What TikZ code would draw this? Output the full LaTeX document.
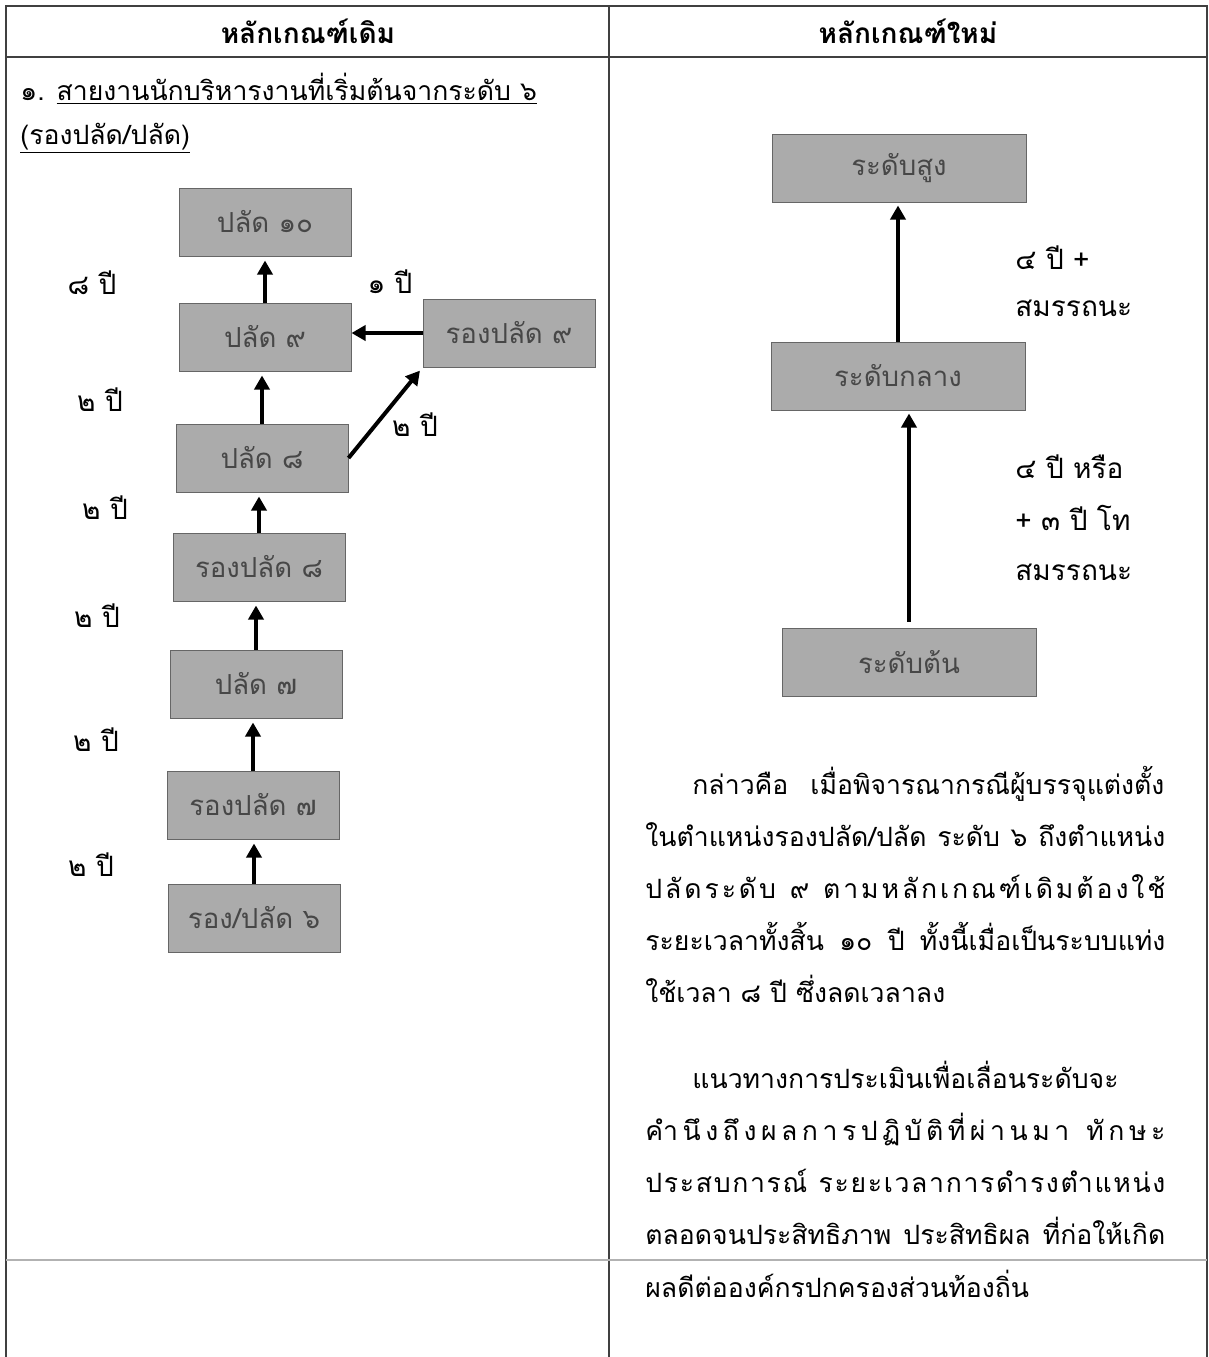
\documentclass[tikz,border=0pt]{standalone}
\usepackage{fontspec}
\setmainfont[Script=Thai]{Loma}
\usetikzlibrary{arrows.meta,positioning}
\newcommand\tg{\hskip 0pt plus 1fil\relax}
\newcommand\tgw{\hskip 0.3em plus 2fil\relax}
\tikzset{
  box/.style={draw=black!60, fill=black!33, line width=0.5pt, minimum width=86pt, minimum height=34pt,
              inner sep=1pt, font=\fontsize{13.8}{15}\selectfont, text=black!72},
  wbox/.style={box, minimum width=127pt},
  arr/.style={-{Triangle[length=7pt,width=7.5pt]}, line width=2pt},
  lbl/.style={font=\fontsize{14}{16}\selectfont, inner sep=0pt},
  txt/.style={lbl, font=\fontsize{13.3}{16}\selectfont, anchor=base west},
  head/.style={lbl, font=\fontsize{14}{16}\selectfont\bfseries},
  grid/.style={line width=1pt, draw=black!75},
  faint/.style={line width=0.8pt, draw=black!30}
}
\begin{document}
\begin{tikzpicture}[x=0.5pt, y=-0.5pt]
\useasboundingbox (0,0) rectangle (1209,1357);
% table frame
\draw[grid] (6,1357) -- (6,6) -- (1207,6) -- (1207,1357);
\draw[grid] (609,6) -- (609,1357);
\draw[grid] (6,57) -- (1207,57);
\draw[faint] (6,1260) -- (1207,1260);
\node[head] (hOld) at (308,31) {หลักเกณฑ์เดิม};
\node[head] (hNew) at (908,31) {หลักเกณฑ์ใหม่};

% left column
\node[txt] (title1) at (20,100) {๑. \underline{สายงานนักบริหารงานที่เริ่มต้นจากระดับ ๖}};
\node[txt] (title2) at (20,144) {\underline{(รองปลัด/ปลัด)}};

\node[box] (p10) at (265,222) {ปลัด ๑๐};
\node[box] (p9)  at (265,337) {ปลัด ๙};
\node[box] (rp9) at (509,333) {รองปลัด ๙};
\node[box] (p8)  at (262,458) {ปลัด ๘};
\node[box] (rp8) at (259,567) {รองปลัด ๘};
\node[box] (p7)  at (256,684) {ปลัด ๗};
\node[box] (rp7) at (253,805) {รองปลัด ๗};
\node[box] (p6)  at (254,918) {รอง/ปลัด ๖};

\foreach \a/\b in {p6/rp7, rp7/p7, p7/rp8, rp8/p8, p8/p9, p9/p10}
  \draw[arr, shorten >=2pt] (\a.north) -- (\a.north |- \b.south);
\draw[arr] (rp9.west) -- (rp9.west -| p9.east);
\draw[arr, shorten >=2pt] (p8.east) -- (rp9.south west);

\node[lbl] (y8)  at (92,283)  {๘ ปี};
\node[lbl] (y1)  at (390,282) {๑ ปี};
\node[lbl] (y2a) at (100,400) {๒ ปี};
\node[lbl] (y2d) at (415,425) {๒ ปี};
\node[lbl] (y2b) at (105,508) {๒ ปี};
\node[lbl] (y2c) at (97,616)  {๒ ปี};
\node[lbl] (y2e) at (96,740)  {๒ ปี};
\node[lbl] (y2f) at (91,865)  {๒ ปี};

% right column
\node[wbox] (hi)  at (899,168) {ระดับสูง};
\node[wbox] (mid) at (898,376) {ระดับกลาง};
\node[wbox] (lo)  at (909,662) {ระดับต้น};
\draw[arr, shorten >=1.5pt] (mid.north) -- (mid.north |- hi.south);
\draw[arr, shorten <=3pt, shorten >=1.5pt] (lo.north) -- (lo.north |- mid.south);

\node[lbl, anchor=west] (r1) at (1015,258) {๔ ปี +};
\node[lbl, anchor=west] (r2) at (1015,308) {สมรรถนะ};
\node[lbl, anchor=west] (r3) at (1015,467) {๔ ปี หรือ};
\node[lbl, anchor=west] (r4) at (1015,518) {+ ๓ ปี โท};
\node[lbl, anchor=west] (r5) at (1015,572) {สมรรถนะ};

\node[txt] (l1)  at (692,794)  {\makebox[236pt][s]{กล่าวคือ เมื่อพิจารณากรณีผู้บรรจุแต่งตั้ง}};
\node[txt] (l2)  at (645,846)  {\makebox[260pt][s]{ในตำแหน่งรองปลัด/ปลัด ระดับ ๖ ถึงตำแหน่ง}};
\node[txt] (l3)  at (645,898)  {\makebox[260pt][s]{ป\tg ลั\tg ด\tg ร\tg ะ\tg ดั\tg บ\tgw ๙\tgw ต\tg า\tg ม\tg ห\tg ลั\tg ก\tg เ\tg ก\tg ณ\tg ฑ์\tg เ\tg ดิ\tg ม\tg ต้\tg อ\tg ง\tg ใ\tg ช้}};
\node[txt] (l4)  at (645,950)  {\makebox[260pt][s]{ระยะเวลาทั้งสิ้น ๑๐ ปี ทั้งนี้เมื่อเป็นระบบแท่ง}};
\node[txt] (l5)  at (645,1002) {ใช้เวลา ๘ ปี ซึ่งลดเวลาลง};
\node[txt] (l6)  at (692,1088) {\makebox[236pt][s]{แนวทางการประเมินเพื่อเลื่อนระดับจะ}};
\node[txt] (l7)  at (645,1140) {\makebox[260pt][s]{คำ\tg นึ\tg ง\tg ถึ\tg ง\tg ผ\tg ล\tg ก\tg า\tg ร\tg ป\tg ฏิ\tg บั\tg ติ\tg ที่\tg ผ่\tg า\tg น\tg ม\tg า\tgw ทั\tg ก\tg ษ\tg ะ}};
\node[txt] (l8)  at (645,1192) {\makebox[260pt][s]{ป\tg ร\tg ะ\tg ส\tg บ\tg ก\tg า\tg ร\tg ณ์\tgw ร\tg ะ\tg ย\tg ะ\tg เ\tg ว\tg ล\tg า\tg ก\tg า\tg ร\tg ดำ\tg ร\tg ง\tg ตำ\tg แ\tg ห\tg น่\tg ง}};
\node[txt] (l9)  at (645,1244) {\makebox[260pt][s]{ตลอดจนประสิทธิภาพ ประสิทธิผล ที่ก่อให้เกิด}};
\node[txt] (l10) at (645,1297) {ผลดีต่อองค์กรปกครองส่วนท้องถิ่น};
\end{tikzpicture}
\end{document}
